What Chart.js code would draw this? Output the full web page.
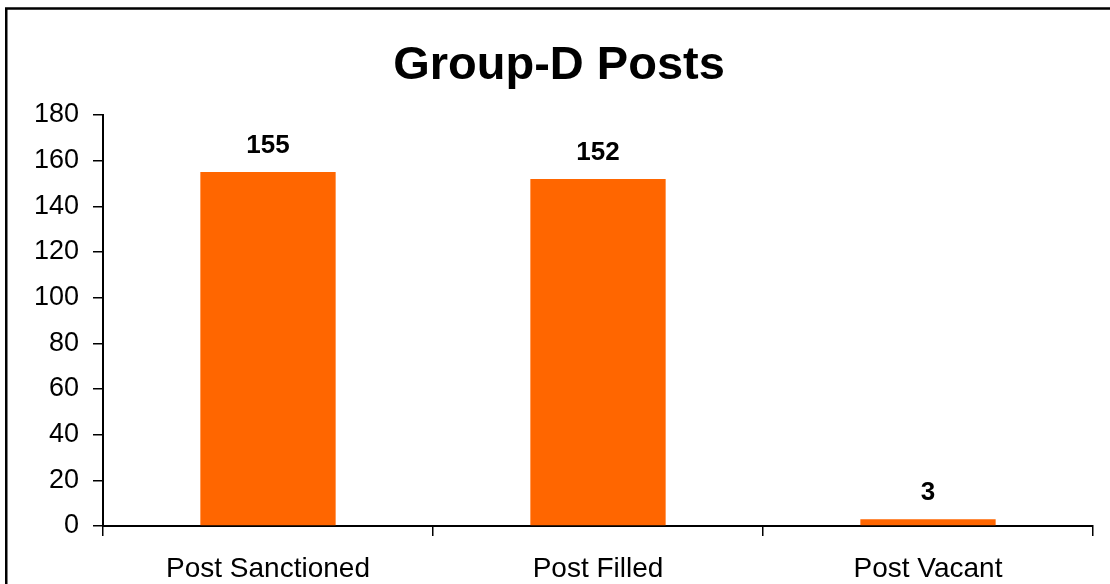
<!DOCTYPE html>
<html>
<head>
<meta charset="utf-8">
<script src="https://cdn.jsdelivr.net/npm/chart.js@4"></script>
<style>
  html, body { margin: 0; padding: 0; background: #fff; }
  #wrap { width: 1110px; height: 584px; }
</style>
</head>
<body>
<div id="wrap"><canvas id="myChart" width="1110" height="584"></canvas></div>
<script>
const categories = ['Post Sanctioned', 'Post Filled', 'Post Vacant'];
const posts = [155, 152, 3];
const yTicks = [0, 20, 40, 60, 80, 100, 120, 140, 160, 180];
const chartTitle = 'Group-D Posts';

const FONT = "'Liberation Sans', Arial, sans-serif";

// outer frame (only top and left edges show) and the title,
// which sits a bit right of the plot centre in the original
const framePlugin = {
  id: 'frame',
  beforeDraw(chart) {
    const c = chart.ctx;
    c.save();
    c.strokeStyle = '#000';
    c.lineWidth = 2.5;
    c.beginPath();
    c.moveTo(6.25, chart.height + 5);
    c.lineTo(6.25, 8.5);
    c.lineTo(chart.width + 5, 8.5);
    c.stroke();

    c.font = 'bold 47px ' + FONT;
    c.fillStyle = '#000';
    c.textAlign = 'center';
    c.textBaseline = 'alphabetic';
    c.fillText(chartTitle, 559, 79);
    c.restore();
  }
};

// bold value above each bar
const valueLabels = {
  id: 'valueLabels',
  afterDatasetsDraw(chart) {
    const c = chart.ctx;
    const meta = chart.getDatasetMeta(0);
    c.save();
    c.font = 'bold 26px ' + FONT;
    c.fillStyle = '#000';
    c.textAlign = 'center';
    c.textBaseline = 'alphabetic';
    meta.data.forEach((bar, i) => {
      c.fillText(String(posts[i]), bar.x, bar.y - 19);
    });
    c.restore();
  }
};

const ctx = document.getElementById('myChart');

new Chart(ctx, {
  type: 'bar',
  data: {
    labels: categories,
    datasets: [{
      data: posts,
      backgroundColor: '#FF6600',
      borderWidth: 0,
      categoryPercentage: 1,
      barPercentage: 0.41
    }]
  },
  options: {
    responsive: false,
    animation: false,
    events: [],
    layout: { padding: { left: 0, right: 17, top: 115, bottom: 0 } },
    plugins: {
      legend: { display: false },
      tooltip: { enabled: false },
      title: { display: false }
    },
    scales: {
      x: {
        afterFit(scale) { scale.height = 58; },
        grid: {
          display: true,
          offset: true,
          drawOnChartArea: false,
          drawTicks: true,
          tickLength: 10,
          color: '#000',
          lineWidth: 1.5
        },
        border: { display: true, color: '#000', width: 2 },
        ticks: {
          color: '#000',
          padding: 16,
          font: { family: FONT, size: 28 }
        }
      },
      y: {
        min: 0,
        max: 180,
        afterFit(scale) { scale.width = 103; },
        afterBuildTicks(scale) { scale.ticks = yTicks.map(v => ({ value: v })); },
        grid: {
          display: true,
          drawOnChartArea: false,
          drawTicks: true,
          tickLength: 10,
          color: '#000',
          lineWidth: 1.5
        },
        border: { display: true, color: '#000', width: 2 },
        ticks: {
          color: '#000',
          padding: 14,
          font: { family: FONT, size: 27 }
        }
      }
    }
  },
  plugins: [framePlugin, valueLabels]
});
</script>
</body>
</html>
